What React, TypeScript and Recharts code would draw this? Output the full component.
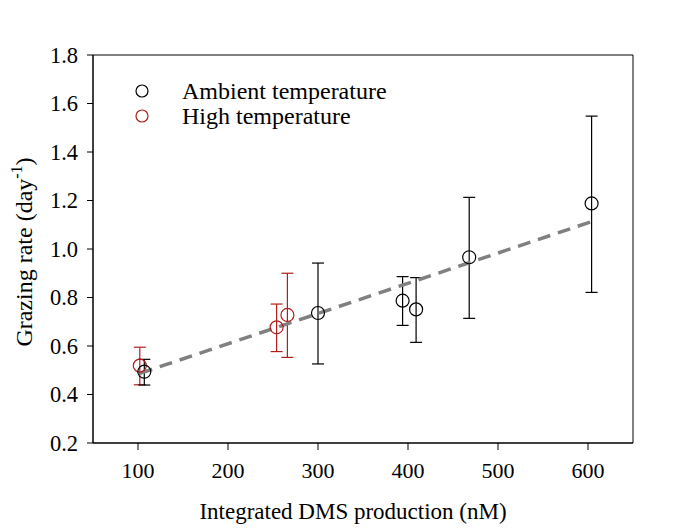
import React from 'react';
import { ScatterChart, Scatter, XAxis, YAxis, ErrorBar, ReferenceArea, Legend } from 'recharts';

const ambientX = [107, 300, 394, 409, 468, 604];
const ambientY = [0.494, 0.736, 0.787, 0.751, 0.966, 1.188];
const ambientLow = [0.439, 0.526, 0.685, 0.615, 0.714, 0.821];
const ambientHigh = [0.545, 0.942, 0.886, 0.882, 1.213, 1.548];

const highX = [102, 254, 266];
const highY = [0.519, 0.677, 0.728];
const highLow = [0.44, 0.577, 0.553];
const highHigh = [0.595, 0.773, 0.9];

const fitX = [102, 604];
const fitY = [0.487, 1.113];

const xTicks = [100, 200, 300, 400, 500, 600];
const yTicks = [0.2, 0.4, 0.6, 0.8, 1.0, 1.2, 1.4, 1.6, 1.8];

const RED = '#b01e1e';
const FONT = '"Liberation Serif", "Times New Roman", serif';

const build = (xs: number[], ys: number[], lo: number[], hi: number[]) =>
  xs.map((x, i) => ({ x, y: ys[i], err: [ys[i] - lo[i], hi[i] - ys[i]] }));

const ambientData = build(ambientX, ambientY, ambientLow, ambientHigh);
const highData = build(highX, highY, highLow, highHigh);
const fitData = fitX.map((x, i) => ({ x, y: fitY[i] }));

const circleShape = (color: string) => (p: any) => (
  <circle cx={p.cx} cy={p.cy} r={6.5} fill="none" stroke={color} strokeWidth={1.2} />
);

const LegendBox = () => (
  <svg width={280} height={60} style={{ display: 'block' }}>
    <circle cx={12} cy={17} r={6} fill="none" stroke="#000" strokeWidth={1.2} />
    <text x={52} y={25} fontFamily={FONT} fontSize={24} fill="#000">Ambient temperature</text>
    <circle cx={12} cy={42} r={6} fill="none" stroke={RED} strokeWidth={1.2} />
    <text x={52} y={50} fontFamily={FONT} fontSize={24} fill="#000">High temperature</text>
  </svg>
);

export default function App() {
  return (
    <div style={{ position: 'absolute', left: 0, top: 0, width: 687, height: 530, background: '#fff' }}>
      <ScatterChart width={687} height={530} margin={{ top: 55, right: 54, bottom: 0, left: 0 }}>
        <XAxis
          type="number"
          dataKey="x"
          domain={[50, 650]}
          ticks={xTicks}
          allowDataOverflow
          height={87}
          tickSize={7}
          tickMargin={12}
          stroke="#000"
          tick={{ fill: '#000', fontFamily: FONT, fontSize: 22 }}
          label={{
            content: (props: any) => {
              const vb = props.viewBox;
              return (
                <text x={vb.x + vb.width / 2 - 10} y={519} textAnchor="middle" fontFamily={FONT} fontSize={23} fill="#000">
                  Integrated DMS production (nM)
                </text>
              );
            },
          }}
        />
        <YAxis
          type="number"
          dataKey="y"
          domain={[0.2, 1.8]}
          ticks={yTicks}
          allowDataOverflow
          width={93}
          tickSize={6}
          tickMargin={9}
          stroke="#000"
          tickFormatter={(v: number) => v.toFixed(1)}
          tick={{ fill: '#000', fontFamily: FONT, fontSize: 22.5 }}
          label={{
            content: () => (
              <text x={32} y={252} transform="rotate(-90, 32, 252)" textAnchor="middle" fontFamily={FONT} fontSize={24} fill="#000">
                Grazing rate (day
                <tspan fontSize={16} dy={-10}>-1</tspan>
                <tspan dy={10}>)</tspan>
              </text>
            ),
          }}
        />
        <ReferenceArea x1={50} x2={650} y1={0.2} y2={1.8} fill="none" stroke="#000" strokeWidth={1} ifOverflow="visible" />
        <Legend
          layout="vertical"
          verticalAlign="middle"
          align="center"
          content={() => <LegendBox />}
          wrapperStyle={{ position: 'absolute', left: 130, top: 74, width: 280, height: 60 }}
        />
        <Scatter
          name="Fit"
          data={fitData}
          line={{ stroke: '#808080', strokeWidth: 3.5, strokeDasharray: '13 8' }}
          shape={() => null}
          legendType="none"
          isAnimationActive={false}
        />
        <Scatter name="High temperature" data={highData} shape={circleShape(RED)} isAnimationActive={false}>
          <ErrorBar dataKey="err" direction="y" width={6} stroke={RED} strokeWidth={1.2} />
        </Scatter>
        <Scatter name="Ambient temperature" data={ambientData} shape={circleShape('#000')} isAnimationActive={false}>
          <ErrorBar dataKey="err" direction="y" width={6} stroke="#000" strokeWidth={1.2} />
        </Scatter>
      </ScatterChart>
    </div>
  );
}
